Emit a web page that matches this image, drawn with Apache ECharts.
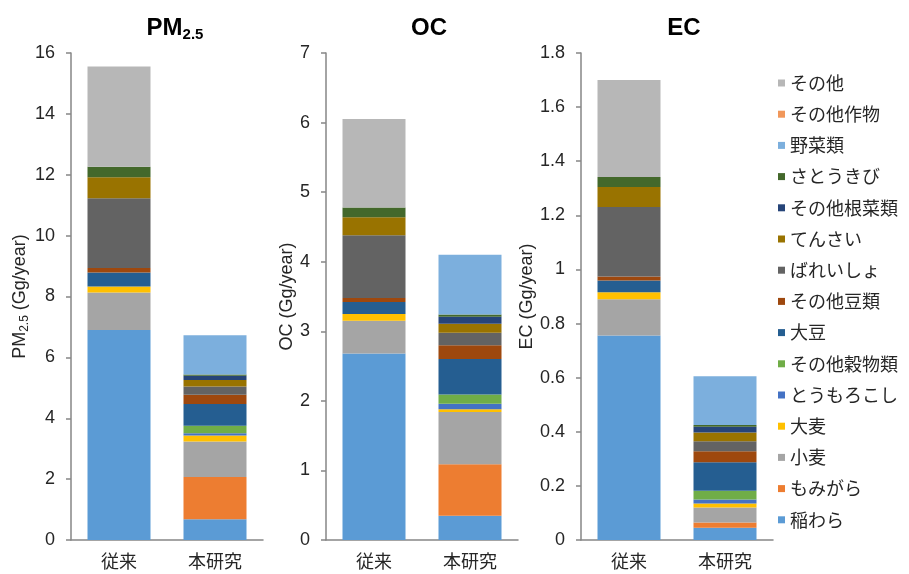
<!DOCTYPE html>
<html>
<head>
<meta charset="utf-8">
<script src="https://cdn.jsdelivr.net/npm/echarts@6/dist/echarts.min.js"></script>
<style>
  html, body { margin: 0; padding: 0; background: #fff; }
  #chart { width: 909px; height: 574px; }
</style>
</head>
<body>
<div id="chart"></div>
<script>
// Categories on each x axis
const categories = ['従来', '本研究'];

// Emission sources, in stacking order (bottom to top)
const sources = ['稲わら', 'もみがら', '小麦', '大麦', 'とうもろこし', 'その他穀物類', '大豆', 'その他豆類',
  'ばれいしょ', 'てんさい', 'その他根菜類', 'さとうきび', '野菜類', 'その他作物', 'その他'];

const sourceColors = ['#5B9BD5', '#ED7D31', '#A5A5A5', '#FFC000', '#4472C4', '#70AD47', '#255E91', '#9E480E',
  '#636363', '#997300', '#264478', '#43682B', '#7CAFDD', '#F1975A', '#B7B7B7'];

// PM2.5 emissions (Gg/year) per source
const pm25Conventional = [6.90, 0, 1.23, 0.20, 0, 0, 0.46, 0.15, 2.29, 0.69, 0, 0.34, 0, 0, 3.30];
const pm25ThisStudy    = [0.68, 1.39, 1.17, 0.19, 0.08, 0.24, 0.72, 0.30, 0.27, 0.22, 0.14, 0.04, 1.29, 0, 0];

// OC emissions (Gg/year) per source
const ocConventional = [2.68, 0, 0.47, 0.10, 0, 0, 0.17, 0.06, 0.90, 0.26, 0, 0.14, 0, 0, 1.27];
const ocThisStudy    = [0.35, 0.74, 0.75, 0.04, 0.08, 0.13, 0.51, 0.20, 0.18, 0.13, 0.10, 0.03, 0.86, 0, 0];

// EC emissions (Gg/year) per source
const ecConventional = [0.756, 0, 0.134, 0.026, 0, 0, 0.043, 0.015, 0.257, 0.074, 0, 0.037, 0, 0, 0.358];
const ecThisStudy    = [0.045, 0.020, 0.055, 0.015, 0.015, 0.032, 0.105, 0.041, 0.037, 0.032, 0.022, 0.006, 0.180, 0, 0];

// Y axis ticks for each panel
const pm25Ticks = { max: 16, interval: 2 };
const ocTicks   = { max: 7, interval: 1 };
const ecTicks   = { max: 1.8, interval: 0.2 };

const FONT = '"Liberation Sans", Arial, "Noto Sans CJK JP", sans-serif';
const CJK = '"Noto Sans CJK JP", sans-serif';
const TEXT = '#262626';
const AXIS = '#868686';

const panels = [
  { conv: pm25Conventional, study: pm25ThisStudy, ticks: pm25Ticks, left: 71,
    title: '{a|PM}{s|2.5}', titleX: 170,
    name: '{n|PM}{ns|2.5}{n| (Gg/year)}', nameGap: 36 },
  { conv: ocConventional, study: ocThisStudy, ticks: ocTicks, left: 326,
    title: '{a|OC}', titleX: 424,
    name: '{n|OC (Gg/year)}', nameGap: 22 },
  { conv: ecConventional, study: ecThisStudy, ticks: ecTicks, left: 581,
    title: '{a|EC}', titleX: 679,
    name: '{n|EC (Gg/year)}', nameGap: 40 }
];

const titleRich = {
  a: { fontSize: 24, fontWeight: 'bold', color: '#000', fontFamily: FONT, lineHeight: 28 },
  s: { fontSize: 15, fontWeight: 'bold', color: '#000', fontFamily: FONT, lineHeight: 12,
       verticalAlign: 'bottom' }
};
const nameRich = {
  n: { fontSize: 18, color: TEXT, fontFamily: FONT, lineHeight: 22 },
  ns: { fontSize: 12, color: TEXT, fontFamily: FONT, lineHeight: 10, verticalAlign: 'bottom' }
};

const grid = [], xAxis = [], yAxis = [], title = [], series = [];

panels.forEach((p, i) => {
  grid.push({ left: p.left, width: 192, top: 53, height: 487 });
  title.push({
    text: p.title, left: p.titleX, top: 9, textAlign: 'center',
    textStyle: { rich: titleRich }
  });
  xAxis.push({
    type: 'category', gridIndex: i, data: categories,
    axisLine: { lineStyle: { color: AXIS, width: 1.5 } },
    axisTick: { show: false },
    axisLabel: { color: TEXT, fontSize: 18, fontFamily: CJK, margin: 12 }
  });
  yAxis.push({
    type: 'value', gridIndex: i, min: 0, max: p.ticks.max, interval: p.ticks.interval,
    name: p.name, nameLocation: 'middle', nameGap: p.nameGap,
    nameTextStyle: { rich: nameRich },
    axisLine: { show: true, lineStyle: { color: AXIS, width: 1.5 } },
    axisTick: { show: true, length: 5, lineStyle: { color: AXIS, width: 1.5 } },
    axisLabel: { color: TEXT, fontSize: 18, fontFamily: FONT, margin: 16 },
    splitLine: { show: false }
  });
  sources.forEach((s, j) => {
    series.push({
      type: 'bar', name: s, stack: 'panel' + i,
      xAxisIndex: i, yAxisIndex: i, barWidth: 63,
      itemStyle: { color: sourceColors[j] },
      emphasis: { disabled: true },
      data: [p.conv[j], p.study[j]]
    });
  });
});

const chart = echarts.init(document.getElementById('chart'), null, { renderer: 'canvas' });
chart.setOption({
  backgroundColor: '#fff',
  animation: false,
  color: sourceColors,
  title,
  grid,
  xAxis,
  yAxis,
  legend: {
    orient: 'vertical', left: 778, top: 74, padding: 0,
    data: sources.slice().reverse(),
    icon: 'rect', itemWidth: 7, itemHeight: 7, itemGap: 13.2,
    textStyle: { color: TEXT, fontSize: 18, fontFamily: CJK },
    selectedMode: false
  },
  series
});
</script>
</body>
</html>
